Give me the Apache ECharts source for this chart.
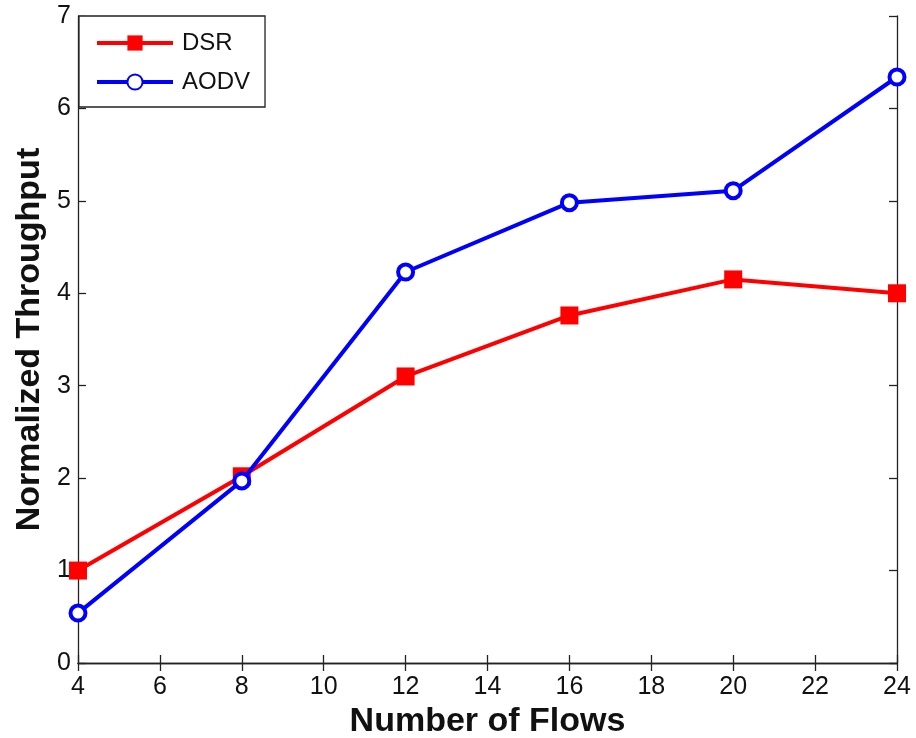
<!DOCTYPE html>
<html>
<head>
<meta charset="utf-8">
<script src="https://cdn.jsdelivr.net/npm/echarts@6/dist/echarts.min.js"></script>
<style>
  html, body { margin: 0; padding: 0; background: #fff; }
  #chart { width: 916px; height: 738px; }
</style>
</head>
<body>
<div id="chart"></div>
<script>
// Number of flows on the x axis
const flows = [4, 8, 12, 16, 20, 24];
// Normalized throughput per routing protocol
const dsr = [1.0, 2.02, 3.10, 3.76, 4.15, 4.0];
const aodv = [0.54, 1.97, 4.23, 4.98, 5.11, 6.34];

const FONT = '"Liberation Sans", Arial, sans-serif';
const AXIS_COLOR = '#222';

const pairs = (xs, ys) => xs.map((x, i) => [x, ys[i]]);

const chart = echarts.init(document.getElementById('chart'), null, { renderer: 'canvas' });

const boxAxis = {
  axisLine: { show: true, lineStyle: { color: AXIS_COLOR, width: 1.3 } },
  axisTick: { show: true, inside: true, length: 8, lineStyle: { color: AXIS_COLOR, width: 1.3 } },
  splitLine: { show: false }
};

const nameStyle = { fontFamily: FONT, fontSize: 34, fontWeight: 'bold', color: '#111' };
const tickLabel = { fontFamily: FONT, fontSize: 25, color: '#111' };

chart.setOption({
  animation: false,
  backgroundColor: '#fff',
  grid: { left: 78, right: 19, top: 16, bottom: 75, containLabel: false, outerBoundsMode: 'none' },
  legend: {
    left: 79, top: 16,
    orient: 'vertical',
    backgroundColor: '#fff',
    borderColor: AXIS_COLOR,
    borderWidth: 1.3,
    borderRadius: 0,
    padding: [15, 15, 13, 16],
    itemGap: 15,
    itemWidth: 76,
    itemHeight: 19,
    lineStyle: { width: 4 },
    textStyle: { fontFamily: FONT, fontSize: 24, color: '#111', padding: [0, 0, 0, 4] },
    data: ['DSR', 'AODV']
  },
  xAxis: [
    Object.assign({
      type: 'value', min: 4, max: 24, interval: 2, position: 'bottom',
      name: 'Number of Flows', nameLocation: 'middle', nameGap: 39,
      nameTextStyle: nameStyle,
      axisLabel: Object.assign({ margin: 12 }, tickLabel)
    }, boxAxis),
    Object.assign({
      type: 'value', min: 4, max: 24, interval: 2, position: 'top',
      axisLabel: { show: false }
    }, boxAxis)
  ],
  yAxis: [
    Object.assign({
      type: 'value', min: 0, max: 7, interval: 1, position: 'left',
      name: 'Normalized Throughput', nameLocation: 'middle', nameGap: 26,
      nameTextStyle: nameStyle,
      axisLabel: Object.assign({ margin: 7 }, tickLabel)
    }, boxAxis),
    Object.assign({
      type: 'value', min: 0, max: 7, interval: 1, position: 'right',
      axisLabel: { show: false }
    }, boxAxis)
  ],
  series: [
    {
      name: 'DSR', type: 'line', xAxisIndex: 0, yAxisIndex: 0,
      data: pairs(flows, dsr),
      clip: false,
      symbol: 'rect', symbolSize: 18,
      lineStyle: { color: '#ff0000', width: 4 },
      itemStyle: { color: '#ff0000', borderColor: '#ff0000', borderWidth: 0 },
      z: 3
    },
    {
      name: 'AODV', type: 'line', xAxisIndex: 0, yAxisIndex: 0,
      data: pairs(flows, aodv),
      clip: false,
      symbol: 'circle', symbolSize: 15,
      lineStyle: { color: '#0000ff', width: 4 },
      itemStyle: { color: '#ffffff', borderColor: '#0000ff', borderWidth: 4 },
      z: 4
    }
  ]
});
</script>
</body>
</html>
